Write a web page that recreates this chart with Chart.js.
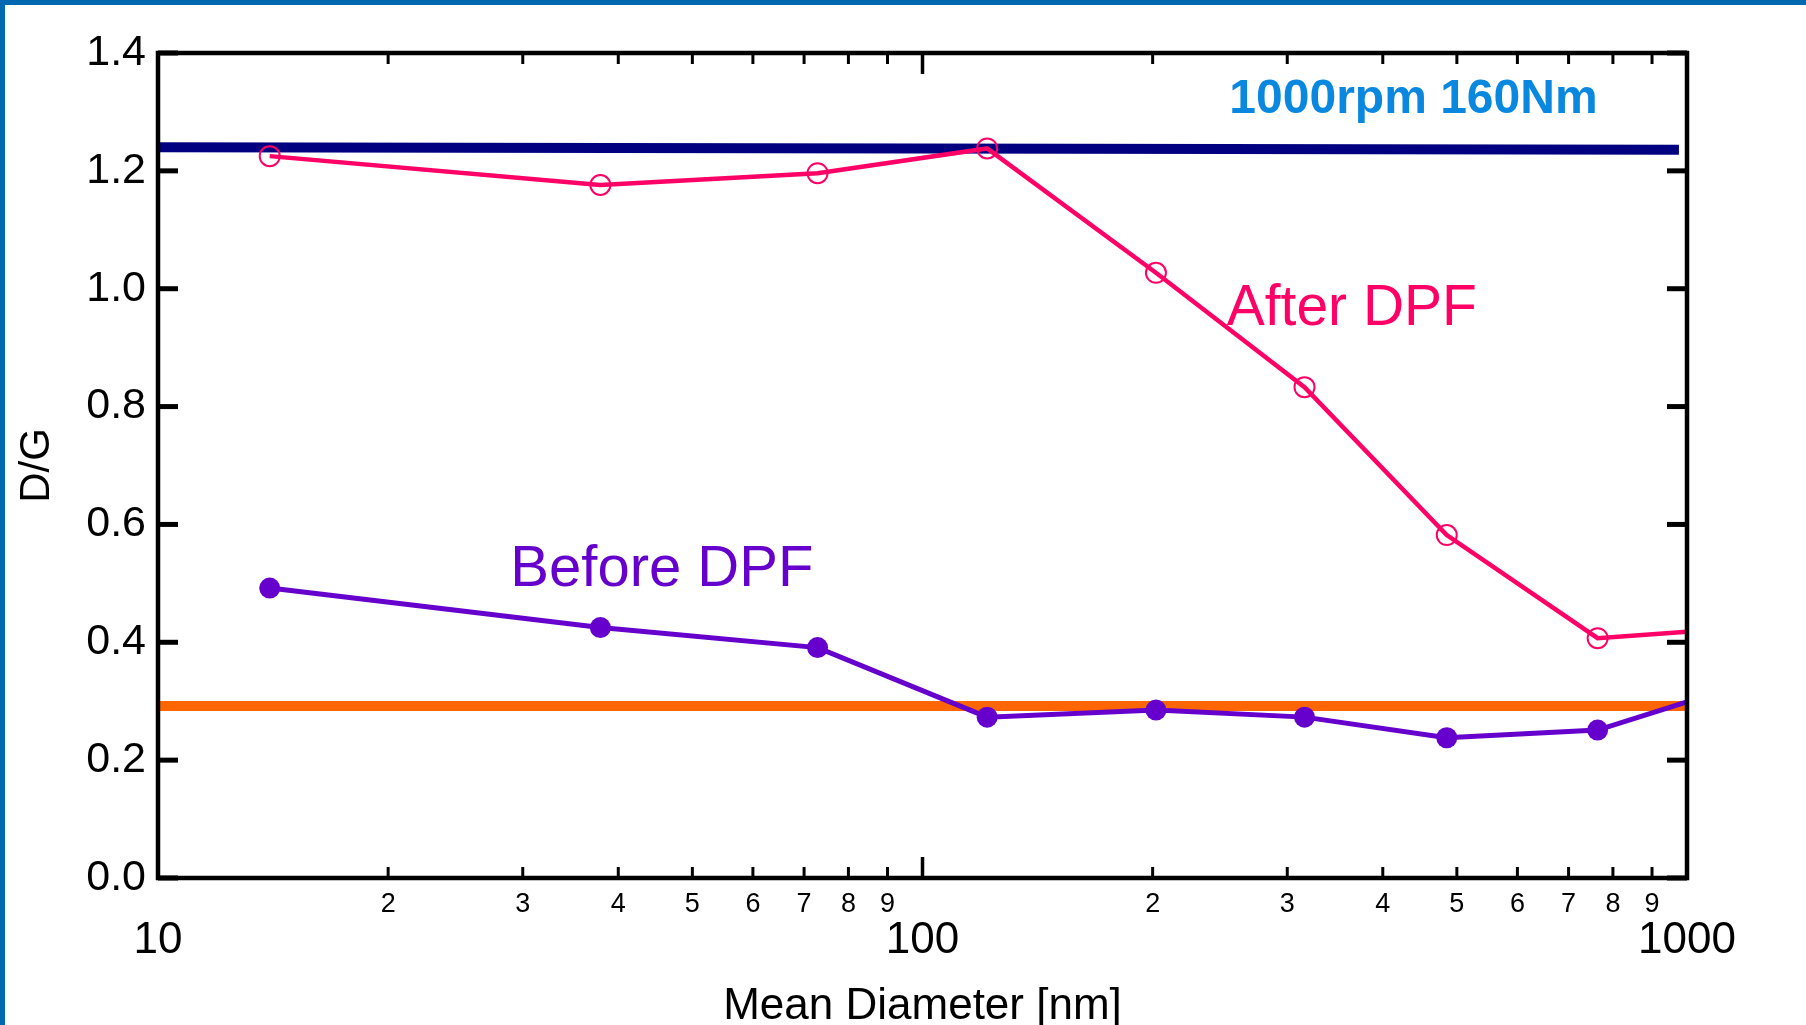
<!DOCTYPE html>
<html>
<head>
<meta charset="utf-8">
<script src="https://cdn.jsdelivr.net/npm/chart.js@4.4.1/dist/chart.umd.min.js"></script>
<style>
  html, body { margin: 0; padding: 0; background: #fff; }
  #wrap { position: relative; width: 1806px; height: 1025px; overflow: hidden; }
  #frame { position: absolute; left: 0; top: 0; right: 0; bottom: 0; border-left: 5px solid #0068b0; border-top: 5px solid #0068b0; pointer-events: none; }
</style>
</head>
<body>
<div id="wrap">
  <canvas id="chart" width="1806" height="1025"></canvas>
  <div id="frame"></div>
</div>
<script>
// data
const diameters = [14.0, 37.9, 72.9, 121.5, 202, 316, 485, 764, 1000];
const afterDPF = [1.225, 1.176, 1.196, 1.238, 1.027, 0.833, 0.582, 0.407, 0.418];
const beforeDPF = [0.492, 0.425, 0.391, 0.273, 0.285, 0.273, 0.238, 0.251, 0.299];

// horizontal reference lines
const navyX = [10, 976];
const navyY = [1.240, 1.236];
const orangeX = [10, 1000];
const orangeY = [0.292, 0.292];

// ticks
const yTicks = [0, 0.2, 0.4, 0.6, 0.8, 1.0, 1.2, 1.4];
const xMajor = [10, 100, 1000];
const xMinor = [20, 30, 40, 50, 60, 70, 80, 90, 200, 300, 400, 500, 600, 700, 800, 900];

const FONT = "'Liberation Sans', Arial, Helvetica, sans-serif";
Chart.defaults.font.family = FONT;
Chart.defaults.color = '#000';

const toPoints = (xs, ys) => xs.map((x, i) => ({ x: x, y: ys[i] }));
const lastHidden = r => (c => c.dataIndex === diameters.length - 1 ? 0 : r);

// text labels placed in data coordinates
const notes = [
  { text: '1000rpm 160Nm', x: 252, y: 1.32, color: '#0a88e0', font: 'bold 48px ' + FONT },
  { text: 'After DPF', x: 250, y: 0.965, color: '#ff0066', font: '57px ' + FONT },
  { text: 'Before DPF', x: 28.9, y: 0.522, color: '#6600cc', font: '58px ' + FONT }
];

const notesPlugin = {
  id: 'notes',
  afterDatasetsDraw(chart) {
    const { ctx, scales: { x, y } } = chart;
    ctx.save();
    ctx.textAlign = 'left';
    ctx.textBaseline = 'middle';
    notes.forEach(n => {
      ctx.font = n.font;
      ctx.fillStyle = n.color;
      ctx.fillText(n.text, x.getPixelForValue(n.x), y.getPixelForValue(n.y));
    });
    ctx.restore();
  }
};

// box frame with inward ticks on all four sides
const frameTicks = {
  id: 'frameTicks',
  afterDraw(chart) {
    const { ctx, chartArea: a, scales: { x, y } } = chart;
    const seg = (x1, y1, x2, y2) => { ctx.beginPath(); ctx.moveTo(x1, y1); ctx.lineTo(x2, y2); ctx.stroke(); };
    ctx.save();
    ctx.strokeStyle = '#000';
    ctx.lineWidth = 5;
    yTicks.forEach(v => {
      const py = y.getPixelForValue(v);
      seg(a.left, py, a.left + 20, py);
      seg(a.right, py, a.right - 20, py);
    });
    ctx.lineWidth = 3.5;
    xMajor.forEach(v => {
      const px = x.getPixelForValue(v);
      seg(px, a.bottom, px, a.bottom - 21);
      seg(px, a.top, px, a.top + 21);
    });
    ctx.lineWidth = 3;
    xMinor.forEach(v => {
      const px = x.getPixelForValue(v);
      seg(px, a.bottom, px, a.bottom - 11);
      seg(px, a.top, px, a.top + 11);
    });
    ctx.lineWidth = 4.5;
    ctx.strokeRect(a.left, a.top, a.right - a.left, a.bottom - a.top);
    ctx.restore();
  }
};

new Chart(document.getElementById('chart'), {
  type: 'line',
  data: {
    datasets: [
      {
        label: 'After DPF',
        data: toPoints(diameters, afterDPF),
        borderColor: '#ff0066',
        borderWidth: 4.5,
        pointRadius: lastHidden(10),
        pointBorderWidth: 2,
        pointBorderColor: '#ff0066',
        pointBackgroundColor: 'rgba(255,255,255,0)',
        tension: 0,
        order: 1
      },
      {
        label: 'Before DPF',
        data: toPoints(diameters, beforeDPF),
        borderColor: '#6600cc',
        borderWidth: 5,
        pointRadius: lastHidden(10.5),
        pointBorderWidth: 0,
        pointBackgroundColor: '#6600cc',
        tension: 0,
        order: 2
      },
      {
        label: 'navy',
        data: toPoints(navyX, navyY),
        borderColor: '#000080',
        borderWidth: 10,
        borderCapStyle: 'butt',
        pointRadius: 0,
        order: 3
      },
      {
        label: 'orange',
        data: toPoints(orangeX, orangeY),
        borderColor: '#ff6600',
        borderWidth: 10,
        borderCapStyle: 'butt',
        pointRadius: 0,
        order: 4
      }
    ]
  },
  options: {
    responsive: false,
    animation: false,
    devicePixelRatio: 1,
    layout: { padding: { top: 53, right: 119, left: 0, bottom: 0 } },
    plugins: { legend: { display: false }, tooltip: { enabled: false } },
    scales: {
      x: {
        type: 'logarithmic',
        position: 'bottom',
        weight: 0,
        min: 10,
        max: 1000,
        afterBuildTicks: s => { s.ticks = xMinor.map(v => ({ value: v })); },
        ticks: {
          autoSkip: false,
          maxRotation: 0,
          padding: 10,
          font: { size: 27 },
          callback: v => String(Math.round(v / Math.pow(10, Math.floor(Math.log10(v) + 1e-9))))
        },
        grid: { display: false, drawTicks: false },
        border: { display: false },
        afterFit: s => { s.height = 35; }
      },
      x2: {
        type: 'logarithmic',
        position: 'bottom',
        weight: 1,
        min: 10,
        max: 1000,
        afterBuildTicks: s => { s.ticks = xMajor.map(v => ({ value: v })); },
        ticks: { autoSkip: false, maxRotation: 0, padding: 1, font: { size: 44 }, callback: v => String(v) },
        grid: { display: false, drawTicks: false },
        border: { display: false },
        title: { display: true, text: 'Mean Diameter [nm]', font: { size: 44, lineHeight: 1 }, padding: { top: 0, bottom: -4 } },
        afterFit: s => { s.height = 112; }
      },
      y: {
        min: 0,
        max: 1.4,
        afterBuildTicks: s => { s.ticks = yTicks.map(v => ({ value: v })); },
        ticks: { padding: 12, font: { size: 43 }, callback: v => v.toFixed(1) },
        grid: { display: false, drawTicks: false },
        border: { display: false },
        title: { display: true, text: 'D/G', font: { size: 42, lineHeight: 1 }, padding: { top: 16, bottom: 0 } },
        afterFit: s => { s.width = 158; }
      }
    }
  },
  plugins: [notesPlugin, frameTicks]
});
</script>
</body>
</html>
